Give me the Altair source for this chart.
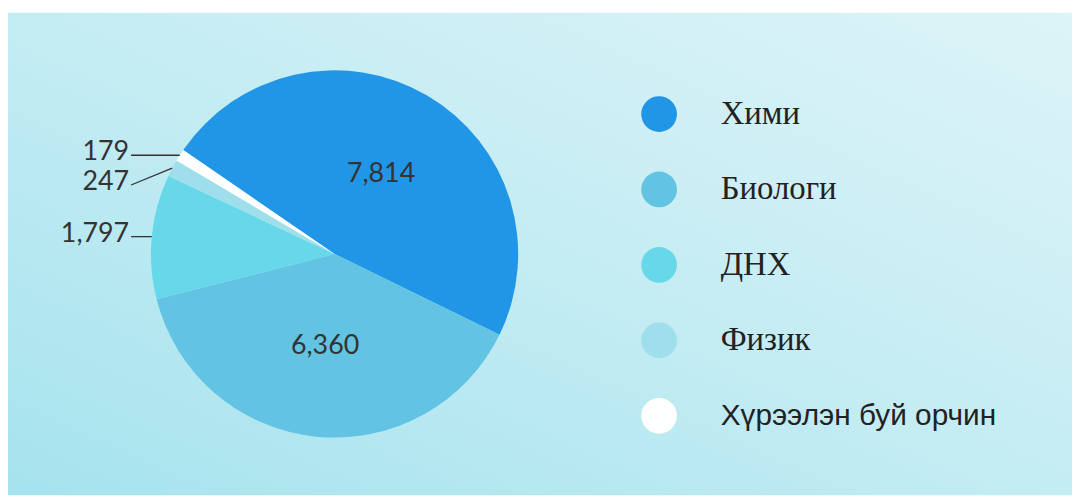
import math
import altair as alt
import pandas as pd

categories = ["Хими", "Биологи", "ДНХ", "Физик", "Хүрээлэн буй орчин"]
values = [7814, 6360, 1797, 247, 179]
colors = ["#2196e6", "#63c3e3", "#66d8ea", "#9fdfeb", "#ffffff"]

W, H = 1072, 489
CX, CY = 329, 246
R = 185
START = -55.5 * math.pi / 180
TWO_PI = 2 * math.pi

df = pd.DataFrame({
    "category": categories,
    "value": values,
    "order": list(range(len(categories))),
})

bg = alt.Chart(pd.DataFrame({"bg": [0]})).mark_rect(
    fill=alt.Gradient(
        gradient="linear",
        stops=[
            alt.GradientStop(color="#ddf4f8", offset=0),
            alt.GradientStop(color="#c4ecf3", offset=0.5),
            alt.GradientStop(color="#a6e3ee", offset=1),
        ],
        x1=1, y1=0, x2=0, y2=1,
    )
).encode(
    x=alt.value(0), x2=alt.value(W), y=alt.value(3), y2=alt.value(H)
)

theta = alt.Theta("value:Q", stack=True, scale=alt.Scale(range=[START, START + TWO_PI]))
order = alt.Order("order:Q", sort="ascending")

is_sans = "datum.label == 'Хүрээлэн буй орчин'"
legend = alt.Legend(
    orient="none", legendX=638, legendY=87, title=None,
    symbolType="circle", symbolSize=1296, symbolStrokeWidth=0, symbolOpacity=1,
    labelFontSize=alt.ExprRef(expr=f"{is_sans} ? 30 : 33"),
    labelFont=alt.ExprRef(expr=f"{is_sans} ? 'Liberation Sans' : 'Liberation Serif'"),
    labelColor="#222222", labelOffset=44, rowPadding=40, padding=0, labelLimit=500,
)

pie = alt.Chart(df).mark_arc(outerRadius=R).encode(
    theta=theta,
    order=order,
    color=alt.Color("category:N", scale=alt.Scale(domain=categories, range=colors), legend=legend),
    x=alt.value(CX), y=alt.value(CY),
)

inner = alt.Chart(df).transform_joinaggregate(
    total="sum(value)"
).transform_calculate(
    lab="datum.value / datum.total >= 0.15 ? format(datum.value, ',') : ''"
).mark_text(radius=93, fontSize=27, font="Lato", color="#333333").encode(
    theta=theta, order=order, text="lab:N",
    x=alt.value(CX), y=alt.value(CY),
)

outer_base = alt.Chart(df).transform_joinaggregate(
    total="sum(value)"
).transform_window(
    cum="sum(value)", sort=[alt.SortField("order")], frame=[None, 0]
).transform_calculate(
    mid=f"{START} + {TWO_PI} * (datum.cum - datum.value / 2) / datum.total",
    frac="datum.value / datum.total",
).transform_calculate(
    ex=f"{CX} + {R} * sin(datum.mid)",
    ey=f"{CY} - {R} * cos(datum.mid)",
).transform_filter(
    "datum.frac < 0.15"
).transform_window(
    prev="lag(ey)", sort=[alt.SortField("ey")]
).transform_calculate(
    ly="isValid(datum.prev) ? max(datum.ey, datum.prev + 30) : datum.ey",
    lx=f"{CX - R - 20}",
    lab="format(datum.value, ',')",
)

leaders = outer_base.mark_rule(color="#333333", strokeWidth=1.3).encode(
    x=alt.X("ex:Q", scale=None), y=alt.Y("ey:Q", scale=None),
    x2="lx:Q", y2="ly:Q",
)

outer_text = outer_base.mark_text(
    align="right", baseline="middle", dx=-2, dy=-3, fontSize=27, font="Lato", color="#333333"
).encode(
    x=alt.X("lx:Q", scale=None), y=alt.Y("ly:Q", scale=None), text="lab:N",
)

chart = alt.layer(bg, pie, inner, leaders, outer_text).properties(
    width=W, height=H, padding=0, autosize=alt.AutoSizeParams(type="none"),
    background="#ffffff",
).configure_view(stroke=None)

chart.save("out.html", embed_options={"renderer": "svg", "actions": False})
